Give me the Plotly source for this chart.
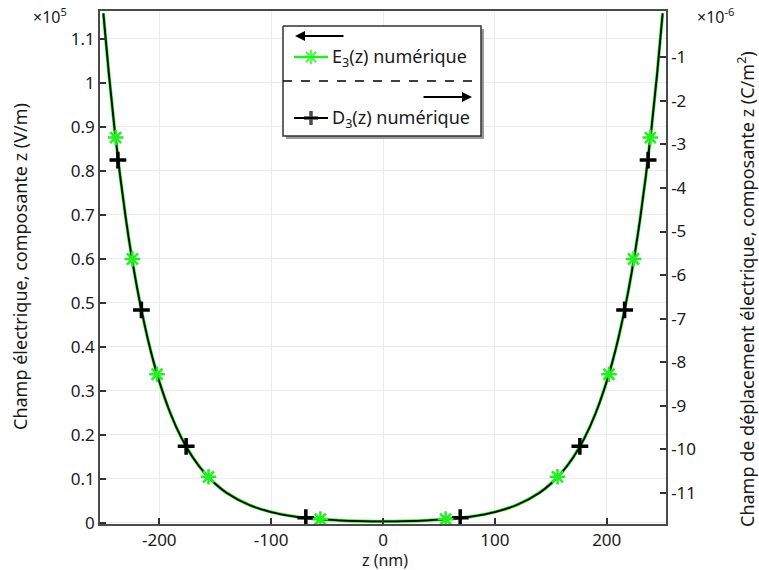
import plotly.graph_objects as go

# ---------------- data ----------------
z_curve = [-250, -245, -240, -235, -230, -225, -220, -215, -210, -205, -200, -190, -180,
           -170, -160, -150, -140, -120, -100, -80, -60, -40, -20, 0,
           20, 40, 60, 80, 100, 120, 140, 150, 160, 170, 180, 190, 200, 205, 210,
           215, 220, 225, 230, 235, 240, 245, 250]
# E3 along z, in units of 1e5 V/m
E_curve = [1.158, 1.019, 0.8962, 0.789, 0.6936, 0.610, 0.5367, 0.4723, 0.4153, 0.3653, 0.3214,
           0.2488, 0.1924, 0.149, 0.1153, 0.0892, 0.0690, 0.0414, 0.0249, 0.01506, 0.00928,
           0.00600, 0.00432, 0.00381,
           0.00432, 0.00600, 0.00928, 0.01506, 0.0249, 0.0414, 0.0690, 0.0892, 0.1153, 0.149,
           0.1924, 0.2488, 0.3214, 0.3653, 0.4153, 0.4723, 0.5367, 0.610, 0.6936, 0.789,
           0.8962, 1.019, 1.158]
# D3 along z, in units of 1e-6 C/m^2
D_curve = [0.006, -1.398, -2.638, -3.721, -4.685, -5.529, -6.269, -6.920, -7.495, -8.000, -8.444,
           -9.177, -9.747, -10.185, -10.525, -10.789, -10.993, -11.272, -11.439, -11.538, -11.596,
           -11.629, -11.646, -11.652,
           -11.646, -11.629, -11.596, -11.538, -11.439, -11.272, -10.993, -10.789, -10.525,
           -10.185, -9.747, -9.177, -8.444, -8.000, -7.495, -6.920, -6.269, -5.529, -4.685,
           -3.721, -2.638, -1.398, 0.006]

z_E_mark = [-239, -224, -202, -156, -56, 56, 156, 202, 224, 239]
E_mark = [0.876, 0.600, 0.338, 0.105, 0.0088, 0.0088, 0.105, 0.338, 0.600, 0.876]

z_D_mark = [-237, -216, -176, -69, 69, 176, 216, 237]
D_mark = [-3.36, -6.80, -9.93, -11.57, -11.57, -9.93, -6.80, -3.36]

x_ticks = [-200, -100, 0, 100, 200]
x_ticktext = ["-200", "-100", "0", "100", "200"]
yl_ticks = [0, 0.1, 0.2, 0.3, 0.4, 0.5, 0.6, 0.7, 0.8, 0.9, 1.0, 1.1]
yl_ticktext = ["0", "0.1", "0.2", "0.3", "0.4", "0.5", "0.6", "0.7", "0.8", "0.9", "1", "1.1"]
yr_ticks = [-1, -2, -3, -4, -5, -6, -7, -8, -9, -10, -11]
yr_ticktext = ["-1", "-2", "-3", "-4", "-5", "-6", "-7", "-8", "-9", "-10", "-11"]

legend_E = "E<sub>3</sub>(z) numérique"
legend_D = "D<sub>3</sub>(z) numérique"

# ---------------- styling / layout ----------------
W, H = 759, 570
L, R, T, B = 100, 666, 11, 524
FONT = "Noto Sans"
GREEN = "#22ee22"
FRAME = "#4a4a4a"


def px(x):
    return (x - L) / (R - L)


def py(y):
    return (B - y) / (B - T)


fig = go.Figure()

# E line (left axis)
fig.add_trace(go.Scatter(x=z_curve, y=E_curve, mode="lines", line=dict(color=GREEN, width=3.2, shape="spline"),
                         xaxis="x", yaxis="y", showlegend=False, hoverinfo="skip"))
# D line (right axis)
fig.add_trace(go.Scatter(x=z_curve, y=D_curve, mode="lines", line=dict(color="#000000", width=1.8, shape="spline"),
                         xaxis="x", yaxis="y2", showlegend=False, hoverinfo="skip"))
# D markers
fig.add_trace(go.Scatter(x=z_D_mark, y=D_mark, mode="markers",
                         marker=dict(symbol="cross-thin-open", size=12, color="#000000",
                                     line=dict(color="#000000", width=3.5)),
                         xaxis="x", yaxis="y2", showlegend=False))
# E markers (same scale as left axis, drawn on top)
fig.add_trace(go.Scatter(x=z_E_mark, y=E_mark, mode="markers",
                         marker=dict(symbol="asterisk-open", size=13, color=GREEN,
                                     line=dict(color=GREEN, width=2.5)),
                         xaxis="x", yaxis="y3", showlegend=False))

# legend box (shadow + white box) drawn as filled traces in pixel-coordinate overlay axes
bx0, bx1, by0, by1 = 283, 481, 26, 136
fig.add_trace(go.Scatter(x=[bx0 + 3, bx1 + 3, bx1 + 3, bx0 + 3, bx0 + 3],
                         y=[by0 + 3, by0 + 3, by1 + 3, by1 + 3, by0 + 3],
                         mode="lines", fill="toself", fillcolor="#9a9a9a", line=dict(width=0, color="#9a9a9a"),
                         xaxis="x4", yaxis="y4", showlegend=False, hoverinfo="skip"))
fig.add_trace(go.Scatter(x=[bx0, bx1, bx1, bx0, bx0], y=[by0, by0, by1, by1, by0],
                         mode="lines", fill="toself", fillcolor="white", line=dict(width=1.5, color="#333333"),
                         xaxis="x4", yaxis="y4", showlegend=False, hoverinfo="skip"))
fig.add_trace(go.Scatter(x=[bx0, bx1], y=[81, 81], mode="lines",
                         line=dict(width=1.5, color="#000000", dash="dash"),
                         xaxis="x4", yaxis="y4", showlegend=False, hoverinfo="skip"))
# legend samples
fig.add_trace(go.Scatter(x=[294, 311, 328], y=[57, 57, 57], mode="lines+markers",
                         line=dict(color=GREEN, width=2.5),
                         marker=dict(symbol="asterisk-open", size=[0, 12, 0], color=GREEN,
                                     line=dict(color=GREEN, width=2.5)),
                         xaxis="x4", yaxis="y4", showlegend=False, hoverinfo="skip"))
fig.add_trace(go.Scatter(x=[294, 311, 328], y=[118, 118, 118], mode="lines+markers",
                         line=dict(color="#000000", width=2),
                         marker=dict(symbol="cross-thin-open", size=[0, 10, 0], color="#000000",
                                     line=dict(color="#000000", width=3.5)),
                         xaxis="x4", yaxis="y4", showlegend=False, hoverinfo="skip"))

axis_font = dict(family=FONT, size=17, color="#1a1a1a")
title_font = dict(family=FONT, size=18, color="#1a1a1a")
legend_font = dict(family=FONT, size=18, color="#1a1a1a")

annotations = [
    dict(xref="paper", yref="paper", x=px(330), y=py(57), text=legend_E, showarrow=False,
         xanchor="left", yanchor="middle", font=legend_font),
    dict(xref="paper", yref="paper", x=px(330), y=py(118), text=legend_D, showarrow=False,
         xanchor="left", yanchor="middle", font=legend_font),
    dict(xref="paper", yref="paper", x=px(295), y=py(36), ax=50, ay=0, text="",
         showarrow=True, arrowhead=2, arrowsize=1, arrowwidth=2, arrowcolor="#000000"),
    dict(xref="paper", yref="paper", x=px(472), y=py(97), ax=-50, ay=0, text="",
         showarrow=True, arrowhead=2, arrowsize=1, arrowwidth=2, arrowcolor="#000000"),
    dict(xref="paper", yref="paper", x=px(50), y=py(16), text="×10<sup>5</sup>", showarrow=False,
         xanchor="center", yanchor="middle", font=dict(family=FONT, size=16, color="#1a1a1a")),
    dict(xref="paper", yref="paper", x=px(715), y=py(16), text="×10<sup>-6</sup>", showarrow=False,
         xanchor="center", yanchor="middle", font=dict(family=FONT, size=16, color="#1a1a1a")),
    dict(xref="paper", yref="paper", x=px(20), y=py(267), text="Champ électrique, composante z (V/m)",
         showarrow=False, textangle=-90, xanchor="center", yanchor="middle", font=title_font),
    dict(xref="paper", yref="paper", x=px(746), y=py(289),
         text="Champ de déplacement électrique, composante z (C/m<sup>2</sup>)",
         showarrow=False, textangle=-90, xanchor="center", yanchor="middle", font=title_font),
    dict(xref="paper", yref="paper", x=px(385), y=py(560), text="z (nm)", showarrow=False,
         xanchor="center", yanchor="middle", font=dict(family=FONT, size=16, color="#1a1a1a")),
]

fig.update_layout(
    width=W, height=H,
    margin=dict(l=L, r=W - R, t=T, b=H - B, pad=0, autoexpand=False),
    paper_bgcolor="white", plot_bgcolor="white",
    font=dict(family=FONT, size=17, color="#1a1a1a"),
    showlegend=False,
    xaxis=dict(range=[-253, 253], tickvals=x_ticks, ticktext=x_ticktext, ticks="inside", ticklen=6,
               tickwidth=1.5, tickcolor="#333333", showgrid=True, gridcolor="#ececec", gridwidth=1,
               showline=True, linecolor=FRAME, linewidth=1.5, mirror=True, zeroline=False,
               tickfont=axis_font, anchor="y", ticklabelstandoff=0),
    yaxis=dict(range=[-0.0023, 1.1636], tickvals=yl_ticks, ticktext=yl_ticktext, ticks="inside",
               ticklen=6, tickwidth=1.5, tickcolor="#333333", showgrid=True, gridcolor="#ececec",
               gridwidth=1, showline=True, linecolor=FRAME, linewidth=1.5, mirror=True,
               zeroline=False, tickfont=axis_font, anchor="x"),
    yaxis2=dict(range=[-11.713, 0.062], tickvals=yr_ticks, ticktext=yr_ticktext, ticks="inside",
                ticklen=6, tickwidth=1.5, tickcolor="#333333", showgrid=False, showline=True,
                linecolor=FRAME, linewidth=1.5, zeroline=False, tickfont=axis_font,
                overlaying="y", side="right", anchor="x"),
    yaxis3=dict(range=[-0.0023, 1.1636], overlaying="y", visible=False, anchor="x"),
    xaxis4=dict(range=[L, R], overlaying="x", visible=False, anchor="y4"),
    yaxis4=dict(range=[B, T], overlaying="y", visible=False, anchor="x4"),
    annotations=annotations,
)

fig.write_html("out.html", config={"displayModeBar": False},
               post_script="document.body.style.margin='0px';")
